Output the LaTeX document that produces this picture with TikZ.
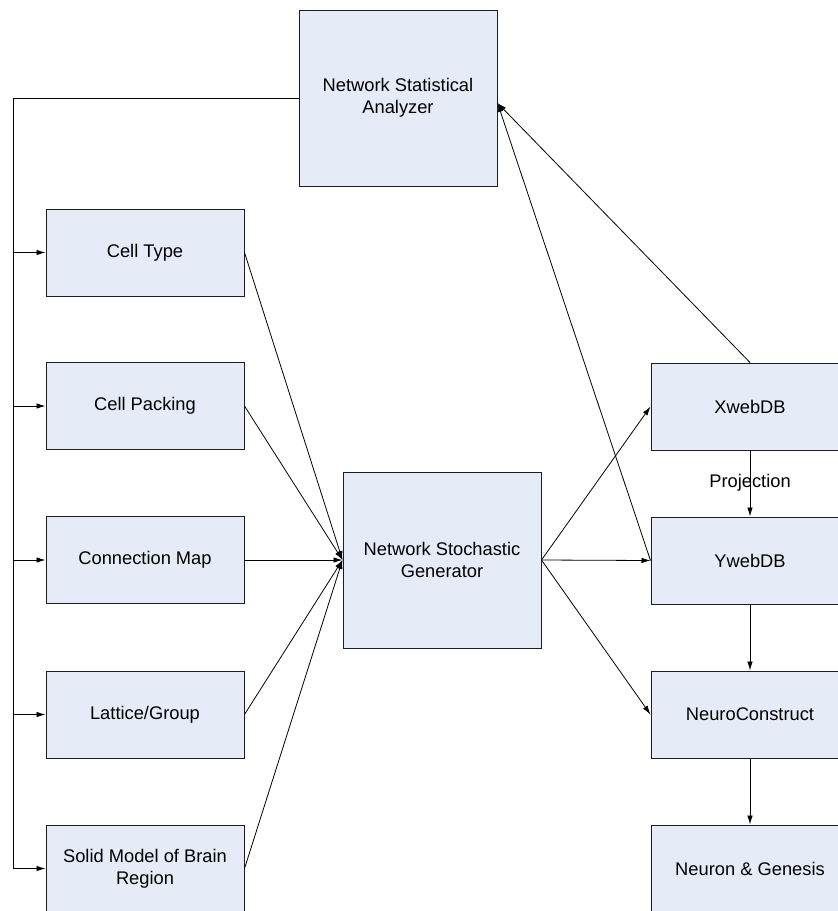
\documentclass[tikz,border=0pt]{standalone}
\usepackage{fontspec}
\setmainfont{Liberation Sans}
\usetikzlibrary{arrows.meta}
\definecolor{boxfill}{RGB}{230,236,247}
\definecolor{boxline}{RGB}{30,30,30}
\tikzset{
  blk/.style={draw=boxline, fill=boxfill, line width=1pt, minimum width=198pt, inner sep=0pt, align=center, font=\fontsize{18.3}{22}\selectfont},
  smallblk/.style={blk, minimum height=87pt},
  bigblk/.style={blk, minimum height=176pt},
  arr/.style={line width=0.8pt, -{Latex[length=9pt,width=5.5pt]}},
  plain/.style={line width=0.8pt},
  lbl/.style={font=\fontsize{18.3}{22}\selectfont, inner sep=0pt}
}
\begin{document}
\begin{tikzpicture}[x=1pt,y=-1pt]
\useasboundingbox (0,0) rectangle (838,911);
% nodes
\node[bigblk] (nsa) at (398,98) {Network Statistical\\Analyzer};
\node[smallblk] (ct) at (145,252.5) {Cell Type};
\node[smallblk] (cp) at (145,406) {Cell Packing};
\node[smallblk] (cm) at (145,560) {Connection Map};
\node[smallblk] (lg) at (145,714.5) {Lattice/Group};
\node[smallblk] (sm) at (145,868.5) {Solid Model of Brain\\Region};
\node[bigblk] (nsg) at (442,560) {Network Stochastic\\Generator};
\node[smallblk] (xw) at (750,406.5) {XwebDB};
\node[smallblk] (yw) at (750,560.5) {YwebDB};
\node[smallblk] (nc) at (750,714.5) {NeuroConstruct};
\node[smallblk] (ng) at (750,868.5) {Neuron \& Genesis};
% coordinates
\coordinate (bus) at (13,868.5);
\coordinate (nsain) at ([yshift=-5pt]nsa.east);
% feedback bus
\draw[arr] (nsa.west) -| (bus) -- (sm.west);
\draw[arr] (ct.west -| bus) -- (ct.west);
\draw[arr] (cp.west -| bus) -- (cp.west);
\draw[arr] (cm.west -| bus) -- (cm.west);
\draw[arr] (lg.west -| bus) -- (lg.west);
% inputs to generator
\draw[arr] (ct.east) -- (nsg.west);
\draw[arr] (cp.east) -- (nsg.west);
\draw[arr] (cm.east) -- (nsg.west);
\draw[arr] (lg.east) -- (nsg.west);
\draw[arr] (sm.east) -- (nsg.west);
% outputs of generator
\draw[arr] (nsg.east) -- (xw.west);
\draw[arr] (nsg.east) -- (yw.west);
\draw[arr] (nsg.east) -- (nc.west);
% feedback to analyzer
\draw[arr] (xw.north) -- (nsain);
\draw[arr] (yw.west) -- (nsain);
% right column
\draw[arr] (xw.south) -- (yw.north);
\node[lbl] (proj) at (750,483) {Projection};
\draw[arr] (yw.south) -- (nc.north);
\draw[arr] (nc.south) -- (ng.north);
\end{tikzpicture}
\end{document}
